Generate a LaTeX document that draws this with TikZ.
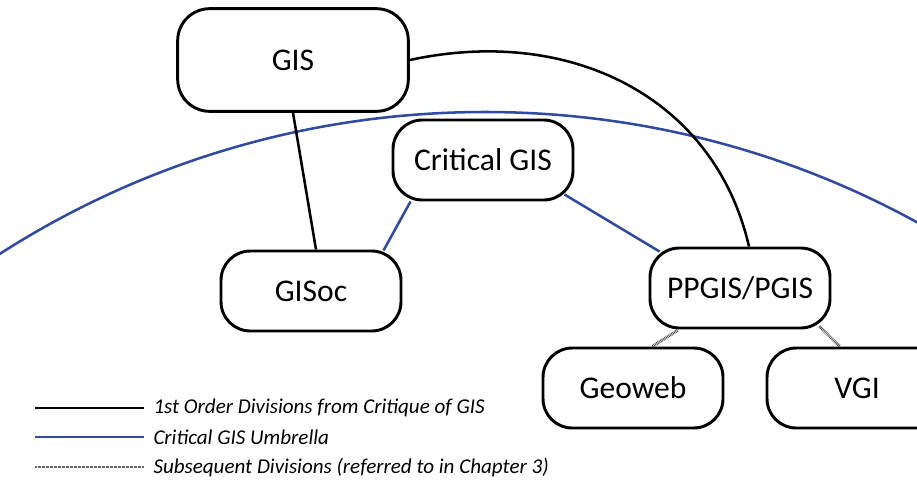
\documentclass[tikz,border=0pt]{standalone}
\usepackage{fontspec}
\setmainfont{Carlito}
\usetikzlibrary{calc}
\definecolor{umbrellablue}{RGB}{47,74,160}

\tikzset{every picture/.style={line width=0.75pt}}
\tikzset{
  topic/.style={draw, line width=2.2pt, rounded corners=22pt, fill=white, minimum width=135pt, minimum height=60pt, inner sep=0.75pt, font=\fontsize{23.7}{28}\selectfont},
  firstorder/.style={line width=1.9pt, black},
  umbrella/.style={line width=1.9pt, umbrellablue},
  subsequent/.style={line width=2.2pt, black!70, dash pattern=on 0.6pt off 0.6pt},
  legtext/.style={anchor=west, inner sep=0.75pt, font=\fontsize{15.8}{19}\selectfont\itshape},
}

\begin{document}
\begin{tikzpicture}[x=0.75pt,y=0.75pt,yscale=-1,xscale=1]
        \useasboundingbox (0,0) rectangle (917,483);
        \clip (0,0) rectangle (917,483);
        %Critical GIS umbrella
        \draw [umbrella] (485,1012) circle [radius=900];

        % Topic boxes
        \node [topic, minimum width=173pt, minimum height=77pt, rounded corners=24pt] (gis) at (293,60) {GIS};
        \node [topic] (crit) at (483,160) {Critical GIS};
        \node [topic] (gisoc) at (311,291) {GISoc};
        \node [topic] (ppgis) at (740,288) {PPGIS/PGIS};
        \node [topic] (geoweb) at (633,388) {Geoweb};
        \node [topic] (vgi) at (857,388) {VGI};

        %1st order divisions
        \draw [firstorder] (gis.south) -- ($(gisoc.north)+(5,0)$);
        \draw [firstorder] (gis.east) .. controls +(162,-35) and +(-34,-148) .. ($(ppgis.north)+(9,0)$);
        %umbrella links
        \draw [umbrella] ($(crit.south west)+(19,0)$) -- ($(gisoc.north east)+(-19,1)$);
        \draw [umbrella] ($(crit.south east)+(-10,-7)$) -- ($(ppgis.north west)+(11,5)$);
        %subsequent divisions
        \draw [subsequent] ($(ppgis.south west)+(29,1)$) -- ($(geoweb.north)+(19,0)$);
        \draw [subsequent] ($(ppgis.south east)+(-12,-3)$) -- ($(vgi.north)+(-17,0)$);

        % Legend
        \node [legtext] (leg1) at (152,408) {1st Order Divisions from Critique of GIS};
        \node [legtext] (leg2) at (152,437) {Critical GIS Umbrella};
        \node [legtext] (leg3) at (152,467) {Subsequent Divisions (referred to in Chapter 3)};
        \draw [firstorder, line width=2pt] ($(leg1.west)+(-117,0)$) -- ($(leg1.west)+(-8,0)$);
        \draw [umbrella, line width=2pt] ($(leg2.west)+(-117,0)$) -- ($(leg2.west)+(-8,0)$);
        \draw [black!60, line width=1.2pt, dash pattern=on 0.5pt off 0.5pt] ($(leg3.west)+(-117,0)$) -- ($(leg3.west)+(-8,0)$);
\end{tikzpicture}
\end{document}
